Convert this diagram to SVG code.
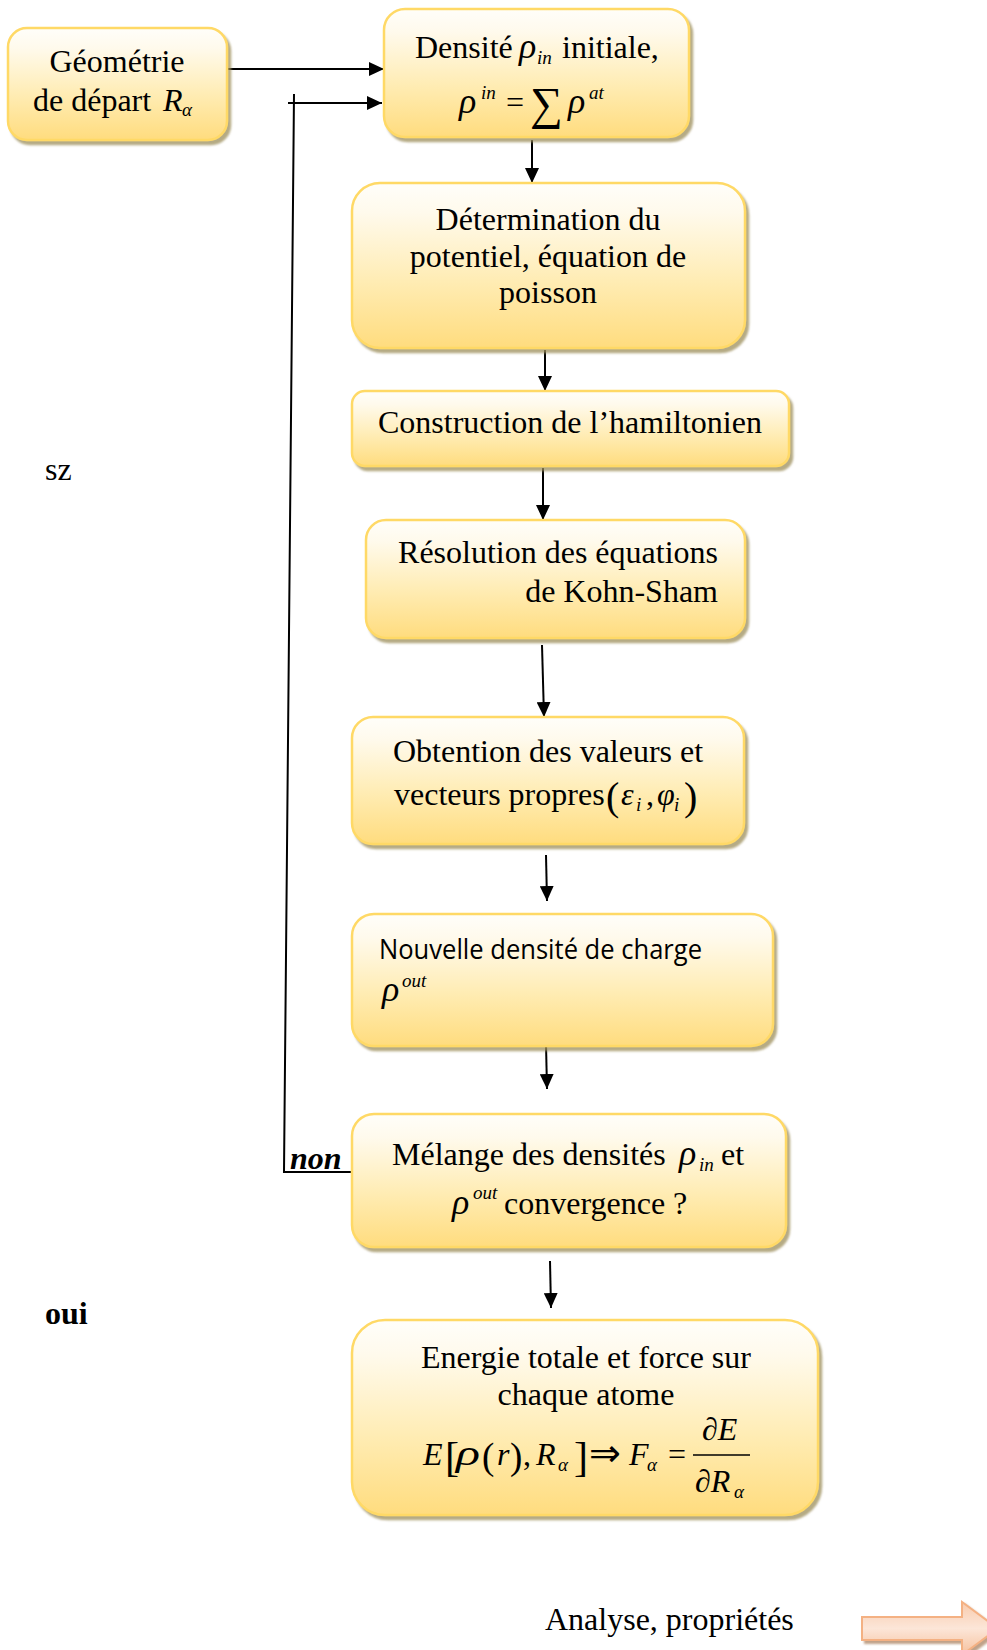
<svg xmlns="http://www.w3.org/2000/svg" width="987" height="1650" viewBox="0 0 987 1650">
  <style>
    .box { fill: url(#gold); stroke: #FFD966; stroke-width: 2.5; filter: url(#shadow); }
    .t { font-family: "Liberation Serif", "Times New Roman", serif; font-size: 32px; fill: #000; }
    .mi { font-family: "Liberation Serif", "Times New Roman", serif; font-style: italic; font-size: 32px; fill: #000; }
    .rho { font-family: "Liberation Serif", "Times New Roman", serif; font-style: italic; font-size: 36px; fill: #000; }
    .sm { font-family: "Liberation Serif", "Times New Roman", serif; font-style: italic; font-size: 19px; fill: #000; }
    .sans { font-family: "Open Sans", "Noto Sans", sans-serif; font-size: 26.5px; fill: #000; }
    .c { text-anchor: middle; }
    .conn { fill: none; stroke: #000; stroke-width: 2; }
    .arr { marker-end: url(#head); }
  </style>
  <defs>
    <linearGradient id="gold" x1="0" y1="0" x2="0" y2="1">
      <stop offset="0" stop-color="#FFFEFA"/>
      <stop offset="0.18" stop-color="#FFFAEC"/>
      <stop offset="0.6" stop-color="#FFECB3"/>
      <stop offset="1" stop-color="#FFDC7E"/>
    </linearGradient>
    <linearGradient id="peach" x1="0" y1="0" x2="0" y2="1">
      <stop offset="0" stop-color="#F8CBAD"/>
      <stop offset="0.5" stop-color="#FCE6D8"/>
      <stop offset="1" stop-color="#F6C09C"/>
    </linearGradient>
    <filter id="shadow" x="-5%" y="-5%" width="115%" height="120%">
      <feDropShadow dx="3" dy="4" stdDeviation="0.8" flood-color="#9c8f5c" flood-opacity="0.75"/>
    </filter>
    <filter id="shadow2" x="-5%" y="-10%" width="115%" height="130%">
      <feDropShadow dx="3" dy="3" stdDeviation="0.8" flood-color="#b08a6a" flood-opacity="0.8"/>
    </filter>
    <marker id="head" markerUnits="userSpaceOnUse" markerWidth="15" markerHeight="14" refX="15" refY="7" orient="auto">
      <path d="M0,0 L15,7 L0,14 z" fill="#000"/>
    </marker>
  </defs>

  <!-- connectors -->
  <g id="connectors">
    <line class="conn arr" x1="227" y1="69" x2="384" y2="69"/>
    <line class="conn arr" x1="288" y1="103" x2="382" y2="103"/>
    <polyline class="conn" points="294,94 284,1172 351,1172"/>
    <line class="conn arr" x1="532" y1="140" x2="532" y2="183"/>
    <line class="conn arr" x1="545" y1="350" x2="545" y2="391"/>
    <line class="conn arr" x1="543" y1="468" x2="543" y2="520"/>
    <line class="conn arr" x1="542" y1="645" x2="544" y2="717"/>
    <line class="conn arr" x1="546" y1="855" x2="547" y2="901"/>
    <line class="conn arr" x1="546" y1="1044" x2="547" y2="1089"/>
    <line class="conn arr" x1="550" y1="1261" x2="551" y2="1308"/>
  </g>

  <!-- starting geometry -->
  <g id="geometrie">
    <rect class="box" x="8" y="28" width="219" height="112" rx="19"/>
    <text class="t c" x="117" y="72">Géométrie</text>
    <text class="t" x="33" y="111">de départ</text>
    <text class="mi" x="163" y="111">R</text>
    <text class="sm" x="182" y="116">α</text>
  </g>

  <!-- initial density -->
  <g id="densite-initiale">
    <rect class="box" x="384" y="9" width="305" height="128" rx="21"/>
    <text class="t" x="415" y="58">Densité</text>
    <text class="rho" x="519" y="58">ρ</text>
    <text class="sm" x="537" y="64">in</text>
    <text class="t" x="562" y="58">initiale,</text>
    <text class="rho" x="459" y="113">ρ</text>
    <text class="sm" x="481" y="99">in</text>
    <text class="t" x="506" y="113">=</text>
    <text class="t" x="530" y="119" style="font-size:46px">∑</text>
    <text class="rho" x="568" y="113">ρ</text>
    <text class="sm" x="589" y="99">at</text>
  </g>

  <!-- potential -->
  <g id="potentiel">
    <rect class="box" x="352" y="183" width="393" height="165" rx="28"/>
    <text class="t c" x="548" y="230">Détermination du</text>
    <text class="t c" x="548" y="267">potentiel, équation de</text>
    <text class="t c" x="548" y="303">poisson</text>
  </g>

  <!-- hamiltonian -->
  <g id="hamiltonien">
    <rect class="box" x="352" y="391" width="437" height="75" rx="13"/>
    <text class="t" x="378" y="433">Construction de l’hamiltonien</text>
  </g>

  <!-- Kohn-Sham -->
  <g id="kohn-sham">
    <rect class="box" x="366" y="520" width="379" height="118" rx="20"/>
    <text class="t" x="718" y="563" text-anchor="end">Résolution des équations</text>
    <text class="t" x="718" y="602" text-anchor="end">de Kohn-Sham</text>
  </g>

  <!-- eigenvalues -->
  <g id="valeurs-propres">
    <rect class="box" x="352" y="717" width="392" height="127" rx="21"/>
    <text class="t" x="393" y="762">Obtention des valeurs et</text>
    <text class="t" x="394" y="805">vecteurs propres</text>
    <text class="t" x="606" y="810" style="font-size:40px">(</text>
    <text class="mi" x="621" y="805">ε</text>
    <text class="sm" x="636" y="811">i</text>
    <text class="t" x="646" y="805">,</text>
    <text class="mi" x="657" y="805">φ</text>
    <text class="sm" x="674" y="811">i</text>
    <text class="t" x="684" y="810" style="font-size:40px">)</text>
  </g>

  <!-- new density -->
  <g id="nouvelle-densite">
    <rect class="box" x="352" y="914" width="421" height="132" rx="22"/>
    <text class="sans" x="379" y="959" textLength="323" lengthAdjust="spacingAndGlyphs">Nouvelle densité de charge</text>
    <text class="rho" x="382" y="1001">ρ</text>
    <text class="sm" x="402" y="987">out</text>
  </g>

  <!-- mixing / convergence -->
  <g id="melange">
    <rect class="box" x="352" y="1114" width="434" height="133" rx="22"/>
    <text class="t" x="392" y="1165">Mélange des densités</text>
    <text class="rho" x="679" y="1165">ρ</text>
    <text class="sm" x="699" y="1171">in</text>
    <text class="t" x="721" y="1165">et</text>
    <text class="rho" x="452" y="1214">ρ</text>
    <text class="sm" x="473" y="1199">out</text>
    <text class="t" x="504" y="1214">convergence ?</text>
  </g>

  <!-- total energy and forces -->
  <g id="energie">
    <rect class="box" x="352" y="1320" width="466" height="195" rx="33"/>
    <text class="t c" x="586" y="1368">Energie totale et force sur</text>
    <text class="t c" x="586" y="1405">chaque atome</text>
    <text class="mi" x="423" y="1465">E</text>
    <text class="t" x="445" y="1471" style="font-size:42px">[</text>
    <text class="rho" x="456" y="1465" textLength="24" lengthAdjust="spacingAndGlyphs">ρ</text>
    <text class="t" x="482" y="1469" style="font-size:37px">(</text>
    <text class="mi" x="497" y="1465">r</text>
    <text class="t" x="510" y="1469" style="font-size:37px">)</text>
    <text class="t" x="523" y="1465">,</text>
    <text class="mi" x="536" y="1465">R</text>
    <text class="sm" x="558" y="1471">α</text>
    <text class="t" x="574" y="1471" style="font-size:42px">]</text>
    <text class="t" x="589" y="1466" style="font-size:38px">⇒</text>
    <text class="mi" x="629" y="1465">F</text>
    <text class="sm" x="647" y="1471">α</text>
    <text class="t" x="668" y="1465">=</text>
    <text class="mi" x="702" y="1440">∂E</text>
    <line x1="693" y1="1455" x2="750" y2="1455" stroke="#000" stroke-width="1.6"/>
    <text class="mi" x="695" y="1492">∂R</text>
    <text class="sm" x="734" y="1498">α</text>
  </g>

  <!-- loop labels and side notes -->
  <g id="labels">
    <text class="t" x="45" y="480">sz</text>
    <text class="t" x="45" y="1324" style="font-weight:bold">oui</text>
    <text class="t" x="290" y="1169" style="font-weight:bold;font-style:italic">non</text>
  </g>

  <!-- analysis -->
  <g id="analyse">
    <text class="t" x="545" y="1630">Analyse, propriétés</text>
    <path d="M862,1617 L962,1617 L962,1602 L998,1628.5 L962,1655 L962,1640 L862,1640 z" fill="url(#peach)" stroke="#F4B183" stroke-width="2" filter="url(#shadow2)"/>
  </g>
</svg>
